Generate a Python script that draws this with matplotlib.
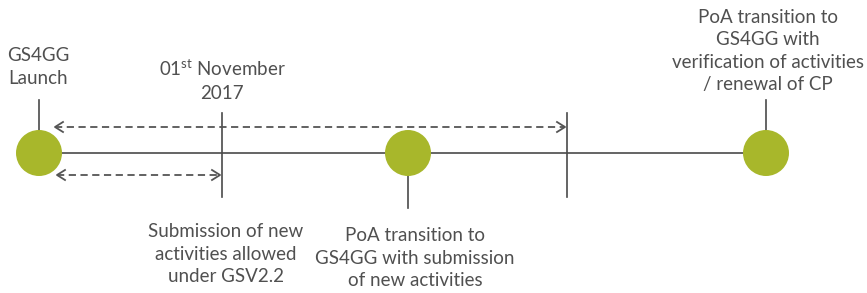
import matplotlib.pyplot as plt
from matplotlib.patches import Circle

# timeline layout (figure pixel units)
milestone_x = [39, 408, 766]
milestone_stem = ['up', 'down', 'up']
marker_x = [222, 567]
timeline_y = 153

# dashed spans: (start, end, y)
span_start = [55, 57]
span_end = [565, 220]
span_y = [127, 175]

labels = [
    ("GS4GG\nLaunch", 38, 67),
    ("01$^{\\rm st}$ November\n2017", 222, 80),
    ("Submission of new\nactivities allowed\nunder GSV2.2", 226, 254),
    ("PoA transition to\nGS4GG with submission\nof new activities", 415, 258),
    ("PoA transition to\nGS4GG with\nverification of activities\n/ renewal of CP", 768, 51),
]

line_col = '#4a4a4a'
text_col = '#505050'
dot_col = '#a8b72b'

plt.rcParams['font.family'] = ['Lato', 'DejaVu Sans']
plt.rcParams['mathtext.fontset'] = 'custom'
plt.rcParams['mathtext.rm'] = 'Lato'

fig = plt.figure(figsize=(8.67, 2.93), dpi=100)
ax = fig.add_axes([0, 0, 1, 1])
ax.set_xlim(0, 867)
ax.set_ylim(293, 0)
ax.axis('off')

# main line
ax.plot([milestone_x[0], milestone_x[-1]], [timeline_y, timeline_y], color=line_col, lw=1.2, zorder=1)

# vertical markers
for x in marker_x:
    ax.plot([x, x], [113, 197], color=line_col, lw=1.2, zorder=1)

# milestone stems and dots
r = 23
for x, d in zip(milestone_x, milestone_stem):
    if d == 'up':
        ax.plot([x, x], [100, timeline_y], color=line_col, lw=1.2, zorder=1)
    else:
        ax.plot([x, x], [timeline_y, 208], color=line_col, lw=1.2, zorder=1)
    ax.add_patch(Circle((x, timeline_y), r, facecolor=dot_col, edgecolor='none', zorder=3))

# dashed double arrows
hl, hw = 8, 5
for x0, x1, y in zip(span_start, span_end, span_y):
    ax.plot([x0, x1], [y, y], color='#555555', lw=1.3, ls=(0, (4, 2.5)), zorder=2)
    for tip, sgn in ((x0, 1), (x1, -1)):
        ax.plot([tip + sgn * hl, tip, tip + sgn * hl], [y - hw, y, y + hw],
                color='#555555', lw=1.3, zorder=2)

for txt, x, y in labels:
    ax.text(x, y, txt, ha='center', va='center', fontsize=13.5, color=text_col,
            linespacing=1.4)

fig.savefig('out.png', dpi=100)
